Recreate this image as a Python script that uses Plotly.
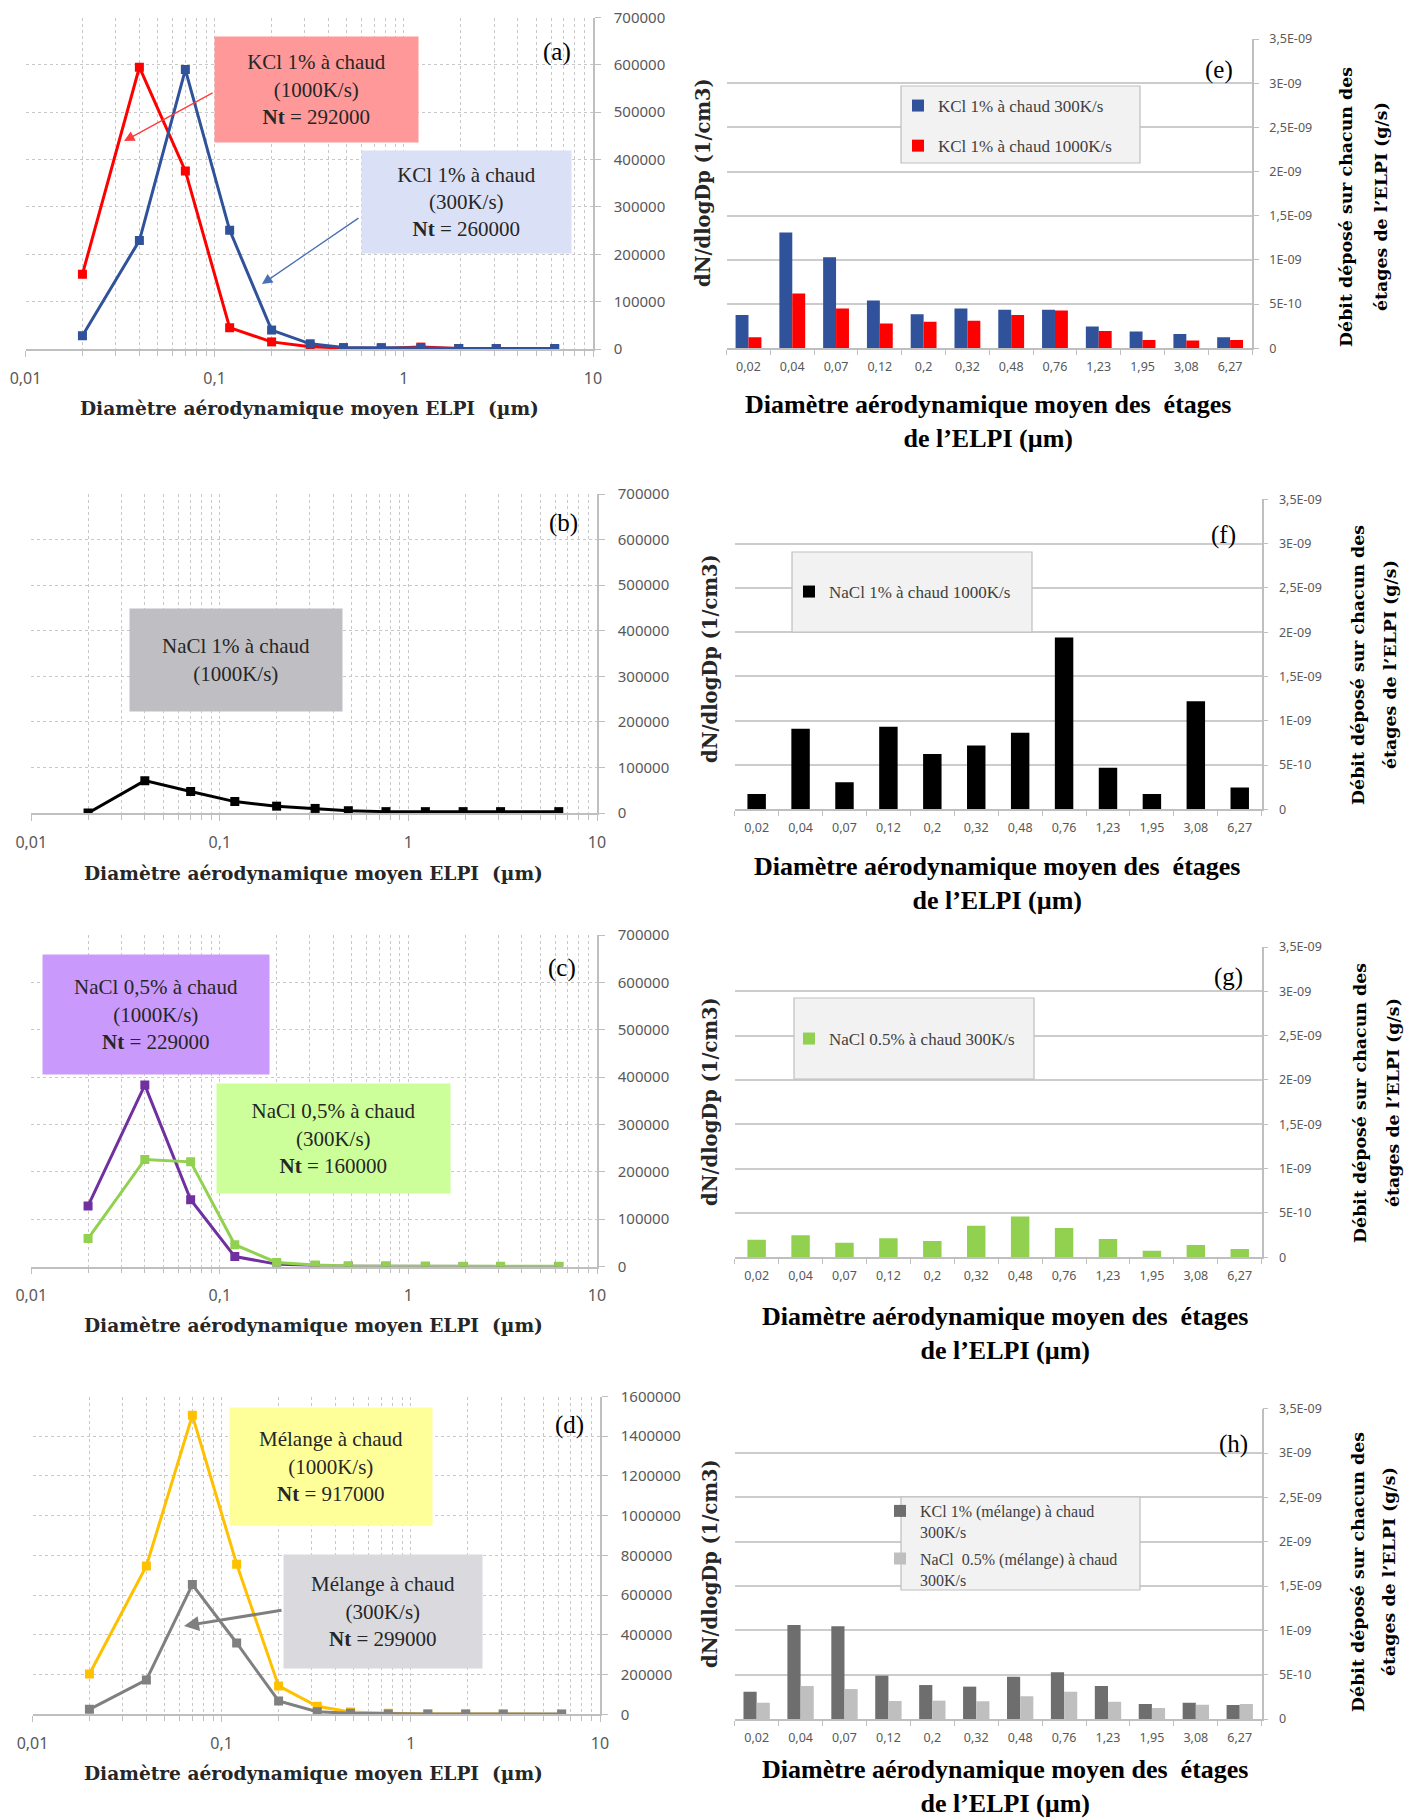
import numpy as np
import plotly.graph_objects as go

W, H = 1416, 1820

# ---------------- data ----------------
diam = [0.02, 0.04, 0.07, 0.12, 0.2, 0.32, 0.48, 0.76, 1.23, 1.95, 3.08, 6.27]
stage_labels = ["0,02", "0,04", "0,07", "0,12", "0,2", "0,32", "0,48", "0,76", "1,23", "1,95", "3,08", "6,27"]

# (a) dN/dlogDp KCl 1%
kcl_1000 = [158000, 595000, 376000, 45000, 15000, 5000, 2000, 1000, 4000, 1000, 500, 0]
kcl_300 = [28000, 229000, 590000, 251000, 40000, 11000, 3000, 3000, 2000, 1000, 1000, 1000]
# (b) NaCl 1%
nacl1_1000 = [0, 71000, 47000, 25000, 15000, 10000, 5000, 3000, 3000, 3000, 3000, 3000]
# (c) NaCl 0,5%
nacl05_1000 = [128000, 383000, 141000, 21000, 5000, 1500, 500, 300, 200, 100, 100, 100]
nacl05_300 = [59000, 226000, 221000, 46000, 8500, 3000, 1000, 1000, 800, 600, 500, 500]
# (d) Mélange
mel_1000 = [203000, 747000, 1505000, 756000, 143000, 40000, 12000, 5000, 1500, 1000, 800, 500]
mel_300 = [25000, 173000, 653000, 359000, 67000, 13000, 5000, 2000, 1500, 1000, 1000, 1000]

# (e)-(h) débit déposé (g/s)
dep_kcl_300 = [3.77e-10, 1.31e-9, 1.03e-9, 5.4e-10, 3.85e-10, 4.5e-10, 4.34e-10, 4.34e-10, 2.45e-10, 1.9e-10, 1.6e-10, 1.25e-10]
dep_kcl_1000 = [1.25e-10, 6.2e-10, 4.5e-10, 2.8e-10, 3.0e-10, 3.1e-10, 3.77e-10, 4.26e-10, 1.96e-10, 0.94e-10, 0.87e-10, 0.94e-10]
dep_nacl1_1000 = [1.73e-10, 9.1e-10, 3.05e-10, 9.33e-10, 6.25e-10, 7.19e-10, 8.65e-10, 1.94e-9, 4.7e-10, 1.73e-10, 1.22e-9, 2.45e-10]
dep_nacl05_300 = [1.99e-10, 2.48e-10, 1.65e-10, 2.14e-10, 1.84e-10, 3.57e-10, 4.59e-10, 3.31e-10, 2.07e-10, 0.75e-10, 1.39e-10, 0.94e-10]
dep_mel_kcl = [3.08e-10, 1.06e-9, 1.045e-9, 4.89e-10, 3.83e-10, 3.65e-10, 4.77e-10, 5.26e-10, 3.72e-10, 1.69e-10, 1.84e-10, 1.58e-10]
dep_mel_nacl = [1.84e-10, 3.72e-10, 3.38e-10, 2.03e-10, 2.07e-10, 2.0e-10, 2.56e-10, 3.08e-10, 1.95e-10, 1.24e-10, 1.62e-10, 1.69e-10]

x_major = [0.01, 0.1, 1, 10]
x_major_txt = ["0,01", "0,1", "1", "10"]
x_minor = [m * 10.0 ** e for e in (-2, -1, 0) for m in range(2, 10)]
dep_ticks = [0, 5e-10, 1e-9, 1.5e-9, 2e-9, 2.5e-9, 3e-9, 3.5e-9]
dep_ticktxt = ["0", "5E-10", "1E-09", "1,5E-09", "2E-09", "2,5E-09", "3E-09", "3,5E-09"]

# ---------------- helpers ----------------
def P(x, y):
    return x / W, 1 - y / H

def xdom(a, b):
    return [a / W, b / W]

def ydom(top, bottom):
    return [1 - bottom / H, 1 - top / H]

SANS = "Noto Sans"
SERIF = "Liberation Serif"
SLAB = "DejaVu Serif"
TICK = "#595959"
GRID = "#c8c8c8"
AXL = "#bfbfbf"

fig = go.Figure()
layout = dict(width=W, height=H, margin=dict(l=0, r=0, t=0, b=0, pad=0, autoexpand=False),
              paper_bgcolor="white", plot_bgcolor="white",
              barmode="overlay", showlegend=True)
annotations = []
shapes = []

# ---------------- line panels (a)-(d) ----------------
line_panels = [
    dict(xd=(25.5, 593), yd=(17.5, 349), ymax=700000, step=100000,
         series=[(kcl_1000, "#ff0000", "KCl 1% 1000K/s"), (kcl_300, "#2f529b", "KCl 1% 300K/s")]),
    dict(xd=(31.3, 597), yd=(494, 813), ymax=700000, step=100000,
         series=[(nacl1_1000, "#000000", "NaCl 1% 1000K/s")]),
    dict(xd=(31.3, 597), yd=(935, 1266.5), ymax=700000, step=100000,
         series=[(nacl05_1000, "#7030a0", "NaCl 0,5% 1000K/s"), (nacl05_300, "#92d050", "NaCl 0,5% 300K/s")]),
    dict(xd=(32.5, 600), yd=(1396.5, 1714.3), ymax=1600000, step=200000,
         series=[(mel_1000, "#ffc000", "Mélange 1000K/s"), (mel_300, "#808080", "Mélange 300K/s")]),
]

for i, p in enumerate(line_panels):
    k = i + 1
    xs = "" if k == 1 else str(k)
    for vals, col, nm in p["series"]:
        fig.add_trace(go.Scatter(x=diam, y=vals, mode="lines+markers", name=nm,
                                 line=dict(color=col, width=3),
                                 marker=dict(symbol="square", size=9, color=col),
                                 xaxis="x" + xs, yaxis="y" + xs, showlegend=False))
    yt = list(range(0, p["ymax"] + 1, p["step"]))
    layout["xaxis" + xs] = dict(
        type="log", range=[-2, 1], domain=xdom(*p["xd"]), anchor="y" + xs, automargin=False,
        tickmode="array", tickvals=x_major, ticktext=x_major_txt,
        showgrid=True, gridcolor=GRID, gridwidth=1, griddash="dot",
        showline=True, linecolor=AXL, linewidth=1.5,
        ticks="outside", ticklen=6, tickcolor=AXL,
        ticklabelstandoff=8,
        tickfont=dict(family=SANS, size=16, color=TICK),
        minor=dict(tickmode="array", tickvals=x_minor, showgrid=True,
                   gridcolor=GRID, gridwidth=1, griddash="dot",
                   ticks="outside", ticklen=5, tickcolor=AXL),
        zeroline=False)
    layout["yaxis" + xs] = dict(
        range=[0, p["ymax"]], domain=ydom(*p["yd"]), anchor="x" + xs, side="right", automargin=False,
        tickmode="array", tickvals=yt, ticktext=[str(v) for v in yt],
        showgrid=True, gridcolor=GRID, gridwidth=1, griddash="dot",
        showline=True, linecolor=AXL, linewidth=1.5,
        ticks="outside", ticklen=6, tickcolor=AXL, ticklabelstandoff=10,
        tickfont=dict(family=SANS, size=15, color=TICK), zeroline=False)

# ---------------- bar panels (e)-(h) ----------------
bar_panels = [
    dict(xd=(726.6, 1252), yd=(39, 348.2), width=0.295, legend="legend",
         series=[(dep_kcl_300, "#2f529b", "KCl 1% à chaud 300K/s"),
                 (dep_kcl_1000, "#ff0000", "KCl 1% à chaud 1000K/s")]),
    dict(xd=(734.7, 1261.7), yd=(499.3, 809.3), width=0.42, legend="legend2",
         series=[(dep_nacl1_1000, "#000000", "NaCl 1% à chaud 1000K/s")]),
    dict(xd=(734.7, 1261.7), yd=(947, 1257.3), width=0.42, legend="legend3",
         series=[(dep_nacl05_300, "#92d050", "NaCl 0.5% à chaud 300K/s")]),
    dict(xd=(734.7, 1261.7), yd=(1408.7, 1719), width=0.30, legend="legend4",
         series=[(dep_mel_kcl, "#6e6e6e", "KCl 1% (mélange) à chaud<br>300K/s"),
                 (dep_mel_nacl, "#bfbfbf", "NaCl  0.5% (mélange) à chaud<br>300K/s")]),
]

for i, p in enumerate(bar_panels):
    k = i + 5
    xs = str(k)
    n = len(p["series"])
    for j, (vals, col, nm) in enumerate(p["series"]):
        off = -p["width"] * n / 2 + j * p["width"]
        fig.add_trace(go.Bar(x=stage_labels, y=vals, name=nm, marker=dict(color=col, line=dict(width=0)),
                             width=p["width"], offset=off, xaxis="x" + xs, yaxis="y" + xs,
                             legend=p["legend"], legendgroup=f"g{k}{j}", showlegend=True))
    layout["xaxis" + xs] = dict(
        type="category", range=[-0.5, 11.5], domain=xdom(*p["xd"]), anchor="y" + xs, automargin=False,
        showgrid=False, showline=True, linecolor=AXL, linewidth=1.5,
        ticks="outside", tickson="boundaries", ticklen=5, tickcolor=AXL,
        ticklabelstandoff=6,
        tickfont=dict(family=SANS, size=12.5, color=TICK))
    layout["yaxis" + xs] = dict(
        range=[0, 3.5e-9], domain=ydom(*p["yd"]), anchor="x" + xs, side="right", automargin=False,
        tickmode="array", tickvals=dep_ticks, ticktext=dep_ticktxt,
        showgrid=True, gridcolor="#cccccc", gridwidth=1.5,
        showline=True, linecolor=AXL, linewidth=1.5,
        ticks="outside", ticklen=5, tickcolor=AXL, ticklabelstandoff=8,
        tickfont=dict(family=SANS, size=12.5, color=TICK), zeroline=False)

# ---------------- legends (boxes + legends) ----------------
legend_boxes = [(901, 1140, 86, 163), (792, 1032, 552, 632), (794, 1034, 998, 1079), (901, 1140, 1497, 1590)]
for (x0, x1, y0, y1) in legend_boxes:
    a, b = P(x0, y0)
    c, d = P(x1, y1)
    shapes.append(dict(type="rect", xref="paper", yref="paper", x0=a, y0=d, x1=c, y1=b,
                       fillcolor="#f2f2f2", line=dict(color="#bfbfbf", width=1.2), layer="above"))

leg_font = dict(family=SERIF, size=17, color="#404040")
leg_pos = {"legend": (898, 88, 15, leg_font),
           "legend2": (789, 574, 10, leg_font),
           "legend3": (789, 1021, 10, leg_font),
           "legend4": (880, 1494, 3, dict(family=SERIF, size=16, color="#404040"))}
for key, (lx, ly, gap, f) in leg_pos.items():
    xx, yy = P(lx, ly)
    layout[key] = dict(x=xx, y=yy, xanchor="left", yanchor="top", bgcolor="rgba(0,0,0,0)",
                       borderwidth=0, font=f, tracegroupgap=gap, traceorder="grouped",
                       valign="top", itemwidth=30)

# ---------------- text boxes on line panels ----------------
boxes = [
    ("KCl 1% à chaud<br>(1000K/s)<br><b>Nt</b> = 292000", "#ff9999", 215, 418, 37, 142),
    ("KCl 1% à chaud<br>(300K/s)<br><b>Nt</b> = 260000", "#dae1f6", 362, 571, 151, 253),
    ("NaCl 1% à chaud<br>(1000K/s)", "#bfbfc3", 130, 342, 609, 711),
    ("NaCl 0,5% à chaud<br>(1000K/s)<br><b>Nt</b> = 229000", "#c999fb", 43, 269, 955, 1074),
    ("NaCl 0,5% à chaud<br>(300K/s)<br><b>Nt</b> = 160000", "#ccff99", 217, 450, 1084, 1193),
    ("Mélange à chaud<br>(1000K/s)<br><b>Nt</b> = 917000", "#ffff99", 230, 432, 1408, 1525),
    ("Mélange à chaud<br>(300K/s)<br><b>Nt</b> = 299000", "#d9d9de", 284, 482, 1555, 1668),
]
for txt, col, x0, x1, y0, y1 in boxes:
    cx, cy = P((x0 + x1) / 2, (y0 + y1) / 2)
    annotations.append(dict(text=txt, x=cx, y=cy, xref="paper", yref="paper",
                            xanchor="center", yanchor="middle", showarrow=False,
                            width=x1 - x0, height=y1 - y0, bgcolor=col, borderpad=0,
                            align="center", valign="middle",
                            font=dict(family=SERIF, size=21, color="#262626")))

# arrows (head in data coordinates, tail offset in pixels)
arrows = [
    ("x", "y", -1.479, 439000, 90, -49, "#ff3b3b", 1.3, 1.6),
    ("x", "y", -0.750, 137000, 98, -67, "#4a6fb5", 1.3, 1.6),
    ("x4", "y4", -1.199, 444600, 99, -16, "#7f7f7f", 3.0, 1.0),
]
for xr, yr, hx, hy, ax, ay, col, wd, sz in arrows:
    annotations.append(dict(text="", x=hx, y=hy, xref=xr, yref=yr, showarrow=True,
                            ax=ax, ay=ay, arrowhead=2, arrowsize=sz, arrowwidth=wd,
                            arrowcolor=col, standoff=0))

# panel letters
letters = [("(a)", 557, 52), ("(b)", 563, 523), ("(c)", 562, 968), ("(d)", 569, 1425),
           ("(e)", 1219, 70), ("(f)", 1223, 535), ("(g)", 1228, 977), ("(h)", 1233, 1444)]
for t, x, y in letters:
    cx, cy = P(x, y)
    annotations.append(dict(text=t, x=cx, y=cy, xref="paper", yref="paper", showarrow=False,
                            xanchor="center", yanchor="middle",
                            font=dict(family=SERIF, size=25, color="#000000")))

# x titles of line panels
for x, y in [(309, 409), (313, 873), (313, 1325), (313, 1773)]:
    cx, cy = P(x, y)
    annotations.append(dict(text="Diamètre aérodynamique moyen ELPI  (µm)", x=cx, y=cy,
                            xref="paper", yref="paper", showarrow=False,
                            xanchor="center", yanchor="middle",
                            font=dict(family=SLAB, size=18.6, color="#262626", weight="bold")))

# x titles of bar panels
for x, y in [(988, 421), (997, 883), (1005, 1333), (1005, 1786)]:
    cx, cy = P(x, y)
    annotations.append(dict(text="Diamètre aérodynamique moyen des  étages<br>de l’ELPI (µm)", x=cx, y=cy,
                            xref="paper", yref="paper", showarrow=False,
                            xanchor="center", yanchor="middle",
                            font=dict(family=SERIF, size=26, color="#000000", weight="bold")))

# left rotated labels
for x, y in [(704, 183), (710, 658), (710, 1101), (710, 1563)]:
    cx, cy = P(x, y)
    annotations.append(dict(text="dN/dlogDp (1/cm3)", x=cx, y=cy, xref="paper", yref="paper",
                            showarrow=False, textangle=-90, xanchor="center", yanchor="middle",
                            font=dict(family=SLAB, size=19.5, color="#262626", weight="bold")))

# right rotated labels (two lines)
for x1, x2, y in [(1346, 1381, 207), (1358, 1390, 665), (1360, 1393, 1103), (1358, 1389, 1572)]:
    for xx, t in [(x1, "Débit déposé sur chacun des"), (x2, "étages de l’ELPI (g/s)")]:
        cx, cy = P(xx, y)
        annotations.append(dict(text=t, x=cx, y=cy, xref="paper", yref="paper",
                                showarrow=False, textangle=-90, xanchor="center", yanchor="middle",
                                font=dict(family=SLAB, size=17.4, color="#000000", weight="bold")))

layout["annotations"] = annotations
layout["shapes"] = shapes
fig.update_layout(**layout)
fig.write_html("out.html", config={"displayModeBar": False},
               post_script="document.body.style.margin='0px';document.body.style.padding='0px';")
